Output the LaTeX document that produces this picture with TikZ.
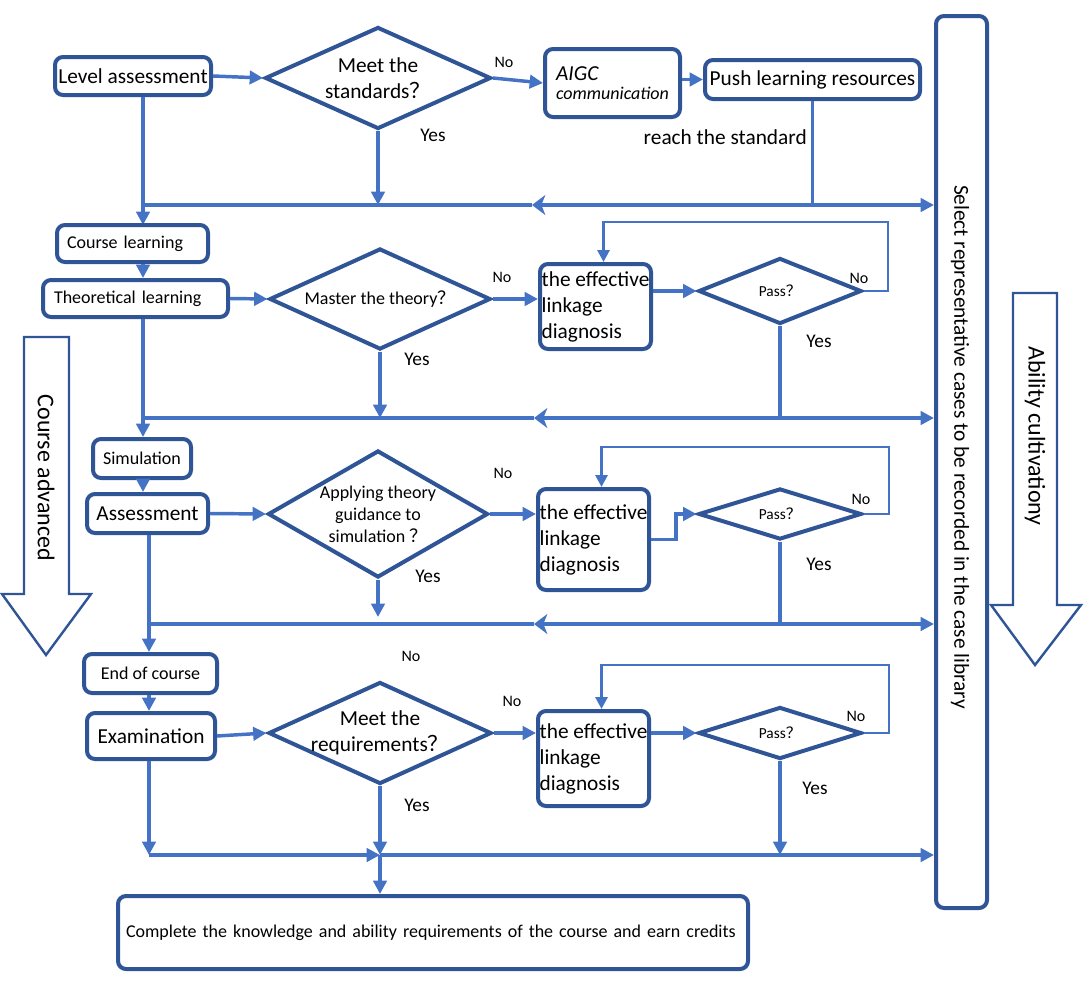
\documentclass[tikz,border=0pt]{standalone}
\usepackage{fontspec}
\setmainfont{Carlito}
\newfontfamily\cjk{Noto Sans CJK SC}
\usetikzlibrary{shapes.geometric,arrows.meta}

\definecolor{boxblue}{HTML}{2F5597}
\definecolor{lineblue}{HTML}{4472C4}

\newcommand{\qm}{{\cjk ？}}
\newcommand{\fA}{\fontsize{16pt}{19.5pt}\selectfont}
\newcommand{\fB}{\fontsize{13.5pt}{16.5pt}\selectfont}
\newcommand{\fC}{\fontsize{12pt}{14pt}\selectfont}
\newcommand{\fD}{\fontsize{14.5pt}{17pt}\selectfont}
\newcommand{\fE}{\fontsize{11.5pt}{14pt}\selectfont}
\newcommand{\fF}{\fontsize{18pt}{21pt}\selectfont}

\tikzset{
  box/.style={draw=boxblue, line width=3pt, rounded corners=6pt, fill=white, inner sep=1pt},
  dia/.style={diamond, draw=boxblue, line width=3pt, fill=white, inner sep=0pt},
  link/.style={draw=lineblue, line width=2.6pt, -{Triangle[length=10pt,width=10pt]}},
  plain/.style={draw=lineblue, line width=2.6pt},
  loopline/.style={draw=lineblue, line width=2.2pt, -{Triangle[length=9pt,width=9pt]}},
  midtip/.style={draw=lineblue, line width=2.6pt, -{Stealth[length=10pt,width=15pt,inset=3pt]}},
  bigarrow/.style={draw=boxblue, line width=1.8pt, fill=white, line join=miter},
  lbl/.style={inner sep=0pt},
}

\begin{document}
\begin{tikzpicture}[x=0.75pt, y=-0.75pt]
  \useasboundingbox (0,0) rectangle (1084,985);

  % spines and rows
  \coordinate (sp1) at (143,0);
  \coordinate (sp2) at (149,0);
  \coordinate (h1) at (0,205);
  \coordinate (h2) at (0,418);
  \coordinate (h3) at (0,624);
  \coordinate (h4) at (0,855);

  % big side arrows
  \draw[bigarrow] (24,337) -- (69,337) -- (69,594) -- (91,594) -- (46,655) -- (2,594) -- (24,594) -- cycle;
  \node[lbl, font=\fF, rotate=-90] (adv) at (46,478) {Course advanced};
  \draw[bigarrow] (1013,293) -- (1057,293) -- (1057,605) -- (1081,605) -- (1035,665) -- (991,605) -- (1013,605) -- cycle;
  \node[lbl, font=\fF, rotate=-90] (abil) at (1035,436) {Ability cultivationy};

  % case library
  \node[box, minimum width=38.25pt, minimum height=669pt] (cases) at (961.5,462) {};
  \node[lbl, font=\fA, rotate=-90] (casestxt) at (960,447) {Select representative cases to be recorded in the case library};

  % level assessment
  \node[box, minimum width=117pt, minimum height=28.5pt, font=\fA] (lvl) at (133,76) {Level assessment};
  \node[dia, minimum width=169.5pt, minimum height=76.5pt,
        label={[font=\fA, align=center]center:Meet the\\standards\qm}] (d1) at (378,78) {};
  \node[box, minimum width=101.25pt, minimum height=51pt, align=left] (aigc) at (612.5,83)
        {{\fA\itshape AIGC}\\[2pt]{\fB\itshape communication}};
  \node[box, minimum width=161.25pt, minimum height=29.25pt, font=\fA] (push) at (812.5,79.5) {Push learning resources};
  \node[lbl, font=\fA, anchor=east] (reach) at (807,137) {reach the standard};

  \draw[link] (lvl.east) -- (d1.west);
  \draw[link] (d1.east) -- (aigc.west);
  \node[lbl, font=\fC] (no1) at (504,62) {No};
  \draw[link] (aigc.east |- push.west) -- (push.west);
  \draw[plain] (push.south) -- (push.south |- h1);
  \draw[link] (push.south |- h1) -- (cases.west |- h1);
  \coordinate (t1) at (532,205);
  \draw[midtip] (push.south |- h1) -- (t1);
  \draw[plain] (t1) -- (d1.south |- h1);
  \draw[link] (d1.south) -- (d1.south |- h1);
  \node[lbl, font=\fD] (yes1) at (433,135) {Yes};
  \draw[plain] (sp1 |- h1) -- (d1.south |- h1);
  \draw[link] (lvl.south -| sp1) -- (sp1 |- 0,225);

  % course learning
  \node[box, minimum width=113.25pt, minimum height=27.75pt, font=\fB, text width=98.25pt, align=left] (course) at (132.5,243.5) {Course learning};
  \node[box, minimum width=138.75pt, minimum height=27.75pt, font=\fB, text width=122.25pt, align=left] (theo) at (135.5,298.5) {Theoretical learning};
  \node[dia, minimum width=165.75pt, minimum height=75.75pt,
        label={[font=\fB]center:Master the theory\qm}] (d2) at (380,299) {};
  \node[box, minimum width=83.25pt, minimum height=63.75pt, font=\fA, align=left] (diag1) at (595.5,306.5) {the effective\\linkage\\diagnosis};
  \node[dia, minimum width=122.25pt, minimum height=49.5pt,
        label={[font=\fE]center:Pass\qm}] (p1) at (780,291) {};

  \draw[link] (course.south -| sp1) -- (theo.north -| sp1);
  \draw[link] (theo.east) -- (d2.west);
  \draw[link] (d2.east) -- (d2.east -| diag1.west);
  \node[lbl, font=\fC] (no2) at (502,277) {No};
  \draw[link] (p1.west -| diag1.east) -- (p1.west);
  \draw[loopline] (p1.east) -| (888,222) -| ([xshift=6pt]diag1.north);
  \node[lbl, font=\fC] (no3) at (859,278) {No};
  \draw[plain] (p1.south) -- (p1.south |- h2);
  \draw[link] (p1.south |- h2) -- (cases.west |- h2);
  \coordinate (t2) at (534,418);
  \draw[midtip] (p1.south |- h2) -- (t2);
  \draw[plain] (t2) -- (sp1 |- h2);
  \draw[link] (d2.south) -- (d2.south |- h2);
  \node[lbl, font=\fD] (yes2) at (819,341) {Yes};
  \node[lbl, font=\fD] (yes3) at (417,359) {Yes};

  % simulation
  \node[box, minimum width=73.5pt, minimum height=29.25pt, font=\fB] (sim) at (142,458.5) {Simulation};
  \node[box, minimum width=90.75pt, minimum height=29.25pt, font=\fA] (assess) at (147.5,513.5) {Assessment};
  \node[dia, minimum width=165pt, minimum height=95.25pt,
        label={[font=\fB, align=center]center:Applying theory\\guidance to\\simulation \qm}] (d3) at (378,514) {};
  \node[box, minimum width=83.25pt, minimum height=75.75pt, font=\fA, align=left] (diag2) at (593.5,539.5) {the effective\\linkage\\diagnosis};
  \node[dia, minimum width=122.25pt, minimum height=38.25pt,
        label={[font=\fE]center:Pass\qm}] (p2) at (780,514) {};

  \draw[link] (theo.south -| sp1) -- (sim.north -| sp1);
  \draw[link] (sim.south -| sp1) -- (assess.north -| sp1);
  \draw[link] (assess.east) -- (d3.west);
  \draw[link] (d3.east) -- (d3.east -| diag2.west);
  \node[lbl, font=\fC] (no4) at (503,473) {No};
  \draw[link] (diag2.east) -- ++(25,0) |- (p2.west);
  \draw[loopline] (p2.east) -| (889,447) -| ([xshift=6pt]diag2.north);
  \node[lbl, font=\fC] (no5) at (861,499) {No};
  \draw[plain] (p2.south) -- (p2.south |- h3);
  \draw[link] (p2.south |- h3) -- (cases.west |- h3);
  \coordinate (t3) at (534,624);
  \draw[midtip] (p2.south |- h3) -- (t3);
  \draw[plain] (t3) -- (sp2 |- h3);
  \draw[link] (d3.south) -- (d3.south |- 0,617);
  \node[lbl, font=\fD] (yes4) at (819,564) {Yes};
  \node[lbl, font=\fD] (yes5) at (428,576) {Yes};

  % end of course
  \node[box, minimum width=99.75pt, minimum height=29.25pt, font=\fB] (endc) at (150.5,673.5) {End of course};
  \node[box, minimum width=96pt, minimum height=34.5pt, font=\fA] (exam) at (151,736) {Examination};
  \node[dia, minimum width=167.25pt, minimum height=76.5pt,
        label={[font=\fA, align=center]center:Meet the\\requirements\qm}] (d4) at (380,733) {};
  \node[box, minimum width=83.25pt, minimum height=71.25pt, font=\fA, align=left] (diag3) at (593.5,758.5) {the effective\\linkage\\diagnosis};
  \node[dia, minimum width=122.25pt, minimum height=39pt,
        label={[font=\fE]center:Pass\qm}] (p3) at (780,733) {};
  \node[box, minimum width=472.5pt, minimum height=54.75pt, font=\fB, text width=460.5pt, align=left] (final) at (433,932.5)
        {Complete the knowledge and ability requirements of the course and earn credits};

  \draw[link] (assess.south -| sp2) -- (endc.north -| sp2);
  \draw[link] (endc.south -| sp2) -- (exam.north -| sp2);
  \node[lbl, font=\fC] (no6) at (411,656) {No};
  \draw[link] (exam.east) -- (d4.west);
  \draw[link] (d4.east) -- (d4.east -| diag3.west);
  \node[lbl, font=\fC] (no7) at (512,701) {No};
  \draw[link] (p3.west -| diag3.east) -- (p3.west);
  \draw[loopline] (p3.east) -| (889,665) -| ([xshift=6pt]diag3.north);
  \node[lbl, font=\fC] (no8) at (856,716) {No};
  \draw[link] (p3.south) -- (p3.south |- h4);
  \node[lbl, font=\fD] (yes6) at (815,788) {Yes};
  \draw[link] (d4.south) -- (d4.south |- h4);
  \node[lbl, font=\fD] (yes7) at (417,805) {Yes};
  \draw[link] (exam.south -| sp2) -- (sp2 |- h4);
  \draw[link] (sp2 |- h4) -- (d4.south |- h4);
  \draw[link] (d4.south |- h4) -- (cases.west |- h4);
  \draw[link] (d4.south |- h4) -- (d4.south |- final.north);
\end{tikzpicture}
\end{document}
